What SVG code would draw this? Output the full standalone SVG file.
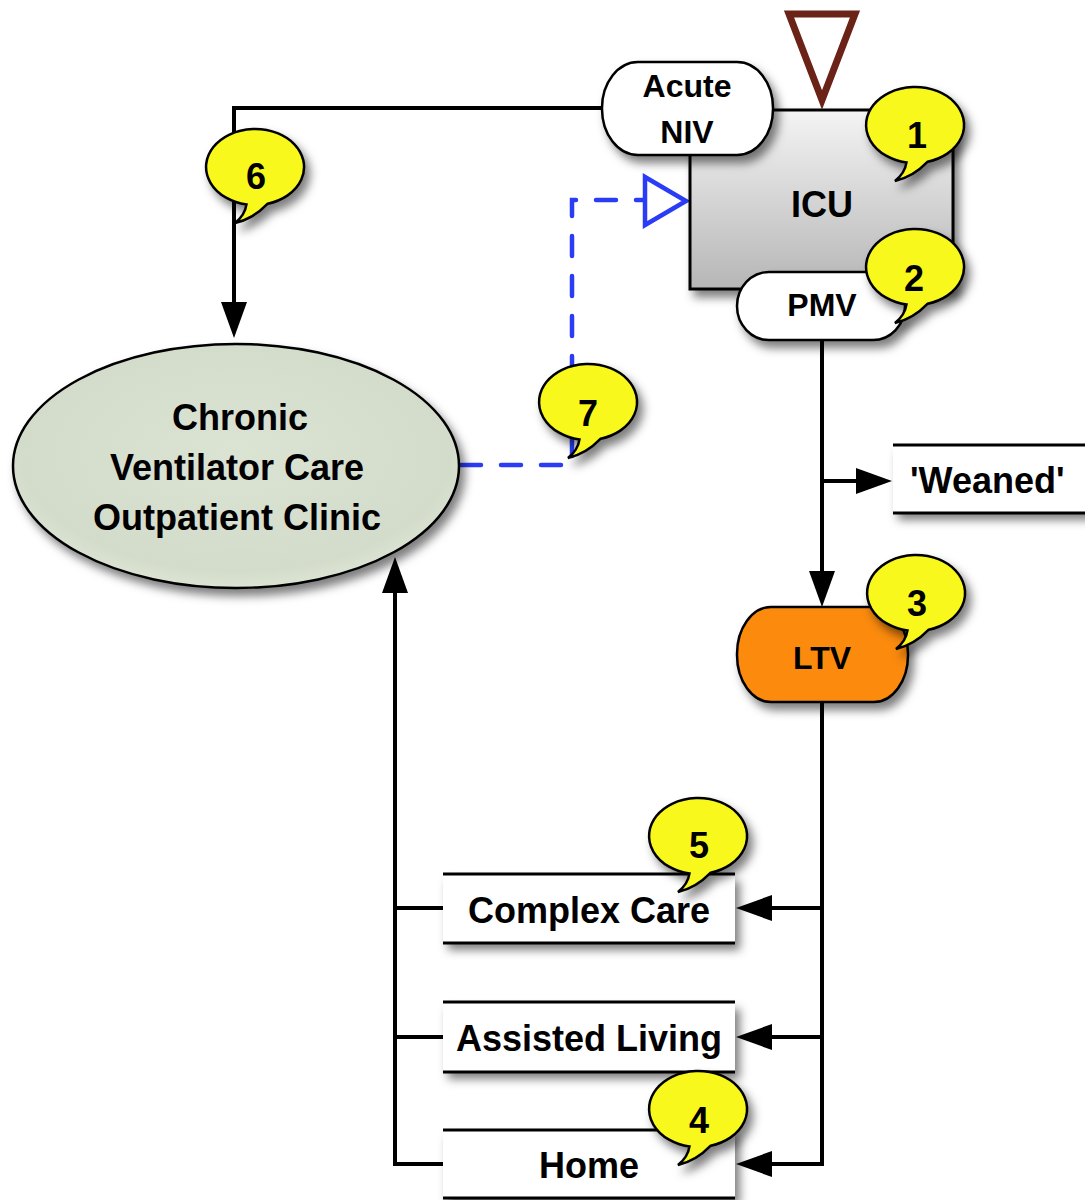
<svg xmlns="http://www.w3.org/2000/svg" xmlns:xlink="http://www.w3.org/1999/xlink" width="1085" height="1200" viewBox="0 0 1085 1200">
<style>
.t{font-family:"Liberation Sans",Arial,sans-serif;font-weight:bold;fill:#000;text-anchor:middle}
.big{font-size:36px}
.pill{font-size:32px}
.num{font-size:36px}
.ln{fill:none;stroke:#000;stroke-width:4}
.bl{fill:none;stroke:#2a3cf5;stroke-width:4.5;stroke-dasharray:20 20;stroke-linecap:round}
.bub{fill:#f8f81e;stroke:#000;stroke-width:2.5}
.box{fill:#fff}
.edge{stroke:#000;stroke-width:3}
</style>
<defs>
<filter id="sh" x="-20%" y="-20%" width="150%" height="160%">
<feDropShadow dx="5" dy="7" stdDeviation="5" flood-color="#000" flood-opacity="0.5"/>
</filter>
<linearGradient id="gIcu" x1="0" y1="0" x2="0" y2="1">
<stop offset="0" stop-color="#f4f4f4"/>
<stop offset="1" stop-color="#b6b6b6"/>
</linearGradient>
<radialGradient id="gEll" cx="0.5" cy="0.45" r="0.6">
<stop offset="0" stop-color="#dbe3d3"/>
<stop offset="0.8" stop-color="#d3dbcb"/>
<stop offset="1" stop-color="#e3ead9"/>
</radialGradient>
<marker id="ah" markerUnits="userSpaceOnUse" markerWidth="36" markerHeight="26" refX="26" refY="13" orient="auto">
<path d="M0,0 L36,13 L0,26 z" fill="#000"/>
</marker>
<path id="bubble" d="M12.7,36.7 A49 38 0 1 0 -8.5,37.4 Q-10,48 -20,56 Q-2,52 12.7,36.7 Z"/>
</defs>

<g id="connectors">
<path class="ln" d="M602,108 H234 V328" marker-end="url(#ah)"/>
<path class="ln" d="M822,340 V597" marker-end="url(#ah)"/>
<path class="ln" d="M822,481 H882" marker-end="url(#ah)"/>
<path class="ln" d="M822,702 V1164 H746" marker-end="url(#ah)"/>
<path class="ln" d="M822,908 H746" marker-end="url(#ah)"/>
<path class="ln" d="M822,1037 H746" marker-end="url(#ah)"/>
<path class="ln" d="M443,1164 H395 V567" marker-end="url(#ah)"/>
<path class="ln" d="M395,908 H443 M395,1037 H443"/>
<path class="bl" d="M461,465 H572 V200 H643"/>
<path d="M645,177 L686,201 L645,225 Z" fill="#fff" stroke="#2a3cf5" stroke-width="4.5" stroke-linejoin="miter"/>
</g>

<g id="clinic">
<ellipse cx="236" cy="466" rx="223" ry="122" fill="url(#gEll)" stroke="#000" stroke-width="2.5" filter="url(#sh)"/>
<text class="t big" x="240" y="430">Chronic</text>
<text class="t big" x="237" y="480">Ventilator Care</text>
<text class="t big" x="237" y="530">Outpatient Clinic</text>
</g>

<g id="icu">
<rect x="690" y="110" width="263" height="179" fill="url(#gIcu)" stroke="#000" stroke-width="3" filter="url(#sh)"/>
<text class="t big" x="822" y="217">ICU</text>
</g>

<g id="triangle">
<path d="M789,14 L855,14 L822,100 Z" fill="#fff" stroke="#6b2318" stroke-width="7" stroke-linejoin="miter"/>
</g>

<g id="acute-niv">
<rect x="602" y="62" width="171" height="93" rx="36" ry="46" fill="#fff" stroke="#000" stroke-width="2.5" filter="url(#sh)"/>
<text class="t pill" x="687" y="97">Acute</text>
<text class="t pill" x="687" y="143">NIV</text>
</g>

<g id="pmv">
<rect x="737" y="272" width="168" height="68" rx="32" ry="34" fill="#fff" stroke="#000" stroke-width="2.5" filter="url(#sh)"/>
<text class="t pill" x="822" y="316">PMV</text>
</g>

<g id="weaned">
<rect class="box" x="893" y="445" width="200" height="68" filter="url(#sh)"/>
<path class="edge" d="M893,445 H1085 M893,513 H1085"/>
<text class="t big" x="910" y="493" style="text-anchor:start">'Weaned'</text>
</g>

<g id="ltv">
<rect x="737" y="607" width="171" height="95" rx="34" ry="47" fill="#fb8a10" stroke="#000" stroke-width="2.5" filter="url(#sh)"/>
<text class="t pill" x="822" y="669">LTV</text>
</g>

<g id="complex-care">
<rect class="box" x="443" y="874" width="292" height="69" filter="url(#sh)"/>
<path class="edge" d="M443,874 H735 M443,943 H735"/>
<text class="t big" x="589" y="923">Complex Care</text>
</g>

<g id="assisted-living">
<rect class="box" x="443" y="1002" width="292" height="70" filter="url(#sh)"/>
<path class="edge" d="M443,1002 H735 M443,1072 H735"/>
<text class="t big" x="589" y="1051">Assisted Living</text>
</g>

<g id="home">
<rect class="box" x="443" y="1130" width="292" height="68" filter="url(#sh)"/>
<path class="edge" d="M443,1130 H735 M443,1198 H735"/>
<text class="t big" x="589" y="1178">Home</text>
</g>

<g id="bubble-1"><use xlink:href="#bubble" class="bub" x="915" y="125" filter="url(#sh)"/><text class="t num" x="917" y="148">1</text></g>
<g id="bubble-2"><use xlink:href="#bubble" class="bub" x="915" y="267" filter="url(#sh)"/><text class="t num" x="914" y="291">2</text></g>
<g id="bubble-3"><use xlink:href="#bubble" class="bub" x="916" y="593" filter="url(#sh)"/><text class="t num" x="917" y="616">3</text></g>
<g id="bubble-4"><use xlink:href="#bubble" class="bub" x="698" y="1109" filter="url(#sh)"/><text class="t num" x="699" y="1133">4</text></g>
<g id="bubble-5"><use xlink:href="#bubble" class="bub" x="698" y="836" filter="url(#sh)"/><text class="t num" x="699" y="858">5</text></g>
<g id="bubble-6"><use xlink:href="#bubble" class="bub" x="255" y="167" filter="url(#sh)"/><text class="t num" x="256" y="189">6</text></g>
<g id="bubble-7"><use xlink:href="#bubble" class="bub" x="588" y="402" filter="url(#sh)"/><text class="t num" x="588" y="426">7</text></g>
</svg>
